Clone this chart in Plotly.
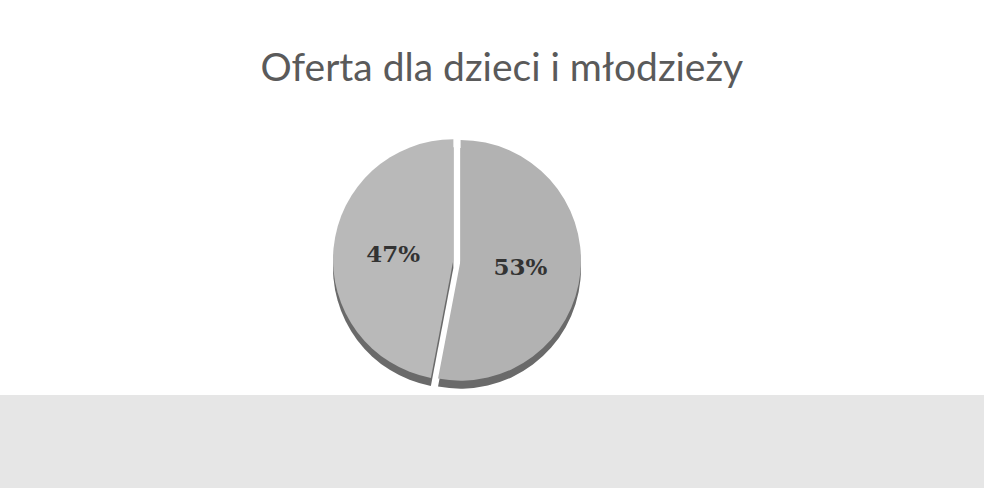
import plotly.graph_objects as go

categories = ["Tak", "Nie"]
shares = [53, 47]
labels_text = ["53%", "47%"]
title_text = "Oferta dla dzieci i młodzieży"

W, H = 984, 488
cx, cy, r = 457, 260, 124

def dom(cx, cy, r):
    return dict(x=[(cx - r) / W, (cx + r) / W], y=[1 - (cy + r) / H, 1 - (cy - r) / H])

fig = go.Figure()
# darker "side" of the 3D pie
fig.add_trace(go.Pie(
    labels=categories, values=shares, sort=False, direction="clockwise", rotation=0,
    pull=[0.03, 0.03], textinfo="none", hoverinfo="skip", showlegend=False,
    marker=dict(colors=["#6a6a6a", "#6a6a6a"], line=dict(width=0)),
    domain=dom(cx, cy + 8, r),
))
fig.add_trace(go.Pie(
    labels=categories, values=shares, sort=False, direction="clockwise", rotation=0,
    pull=[0.03, 0.03], text=labels_text, textinfo="text", textposition="inside",
    insidetextorientation="horizontal", showlegend=False,
    textfont=dict(family="DejaVu Serif", size=23, color="#333333", weight="bold"),
    marker=dict(colors=["#b2b2b2", "#b9b9b9"], line=dict(width=0)),
    domain=dom(cx, cy, r),
))

fig.update_layout(
    width=W, height=H,
    margin=dict(l=0, r=0, t=0, b=0),
    paper_bgcolor="white", plot_bgcolor="white",
    title=dict(text=title_text, x=0.51, xanchor="center", y=1 - 67 / H, yanchor="middle",
               font=dict(family="Lato", size=39, color="#5a5a5a")),
    shapes=[dict(type="rect", xref="paper", yref="paper", x0=0, x1=1, y0=0, y1=1 - 395 / H,
                 fillcolor="#e6e6e6", line=dict(width=0), layer="below")],
)
fig.write_html("out.html", config={"displayModeBar": False},
               post_script="document.body.style.margin='0';document.body.style.overflow='hidden';")
